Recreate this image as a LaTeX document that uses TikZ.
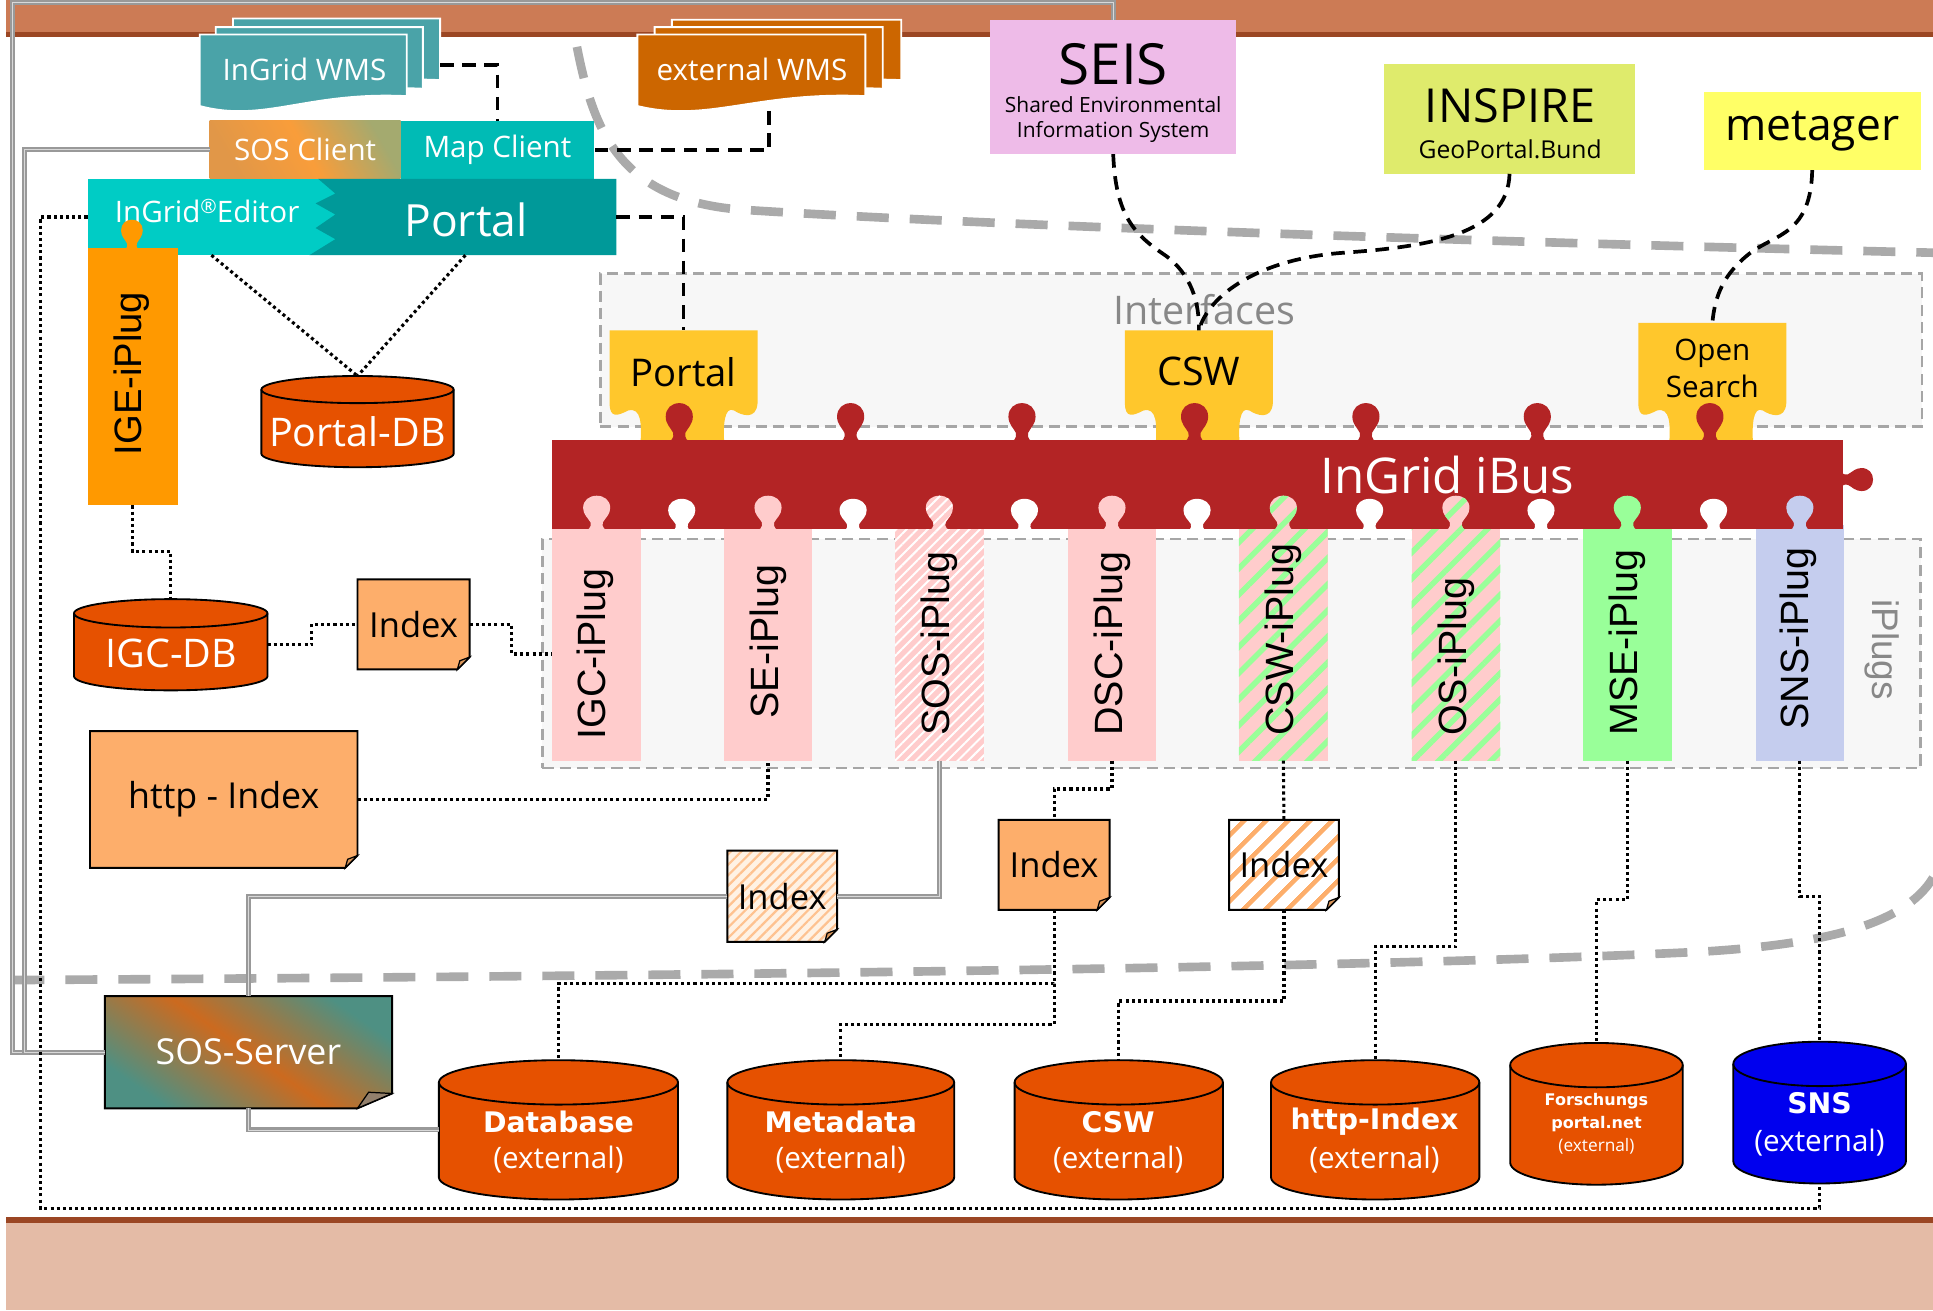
\documentclass[tikz,border=0pt]{standalone}
\usepackage{fontspec}
\setmainfont{Open Sans}
\newfontfamily\fOpen{Open Sans}
\newfontfamily\fArial{Liberation Sans}
\newfontfamily\fDeja{DejaVu Sans}
\usetikzlibrary{patterns,patterns.meta,calc}
\newcommand\fsz[2]{\fontsize{#1}{#2}\selectfont}
\definecolor{cBand}{HTML}{CC7B55}
\definecolor{cBandD}{HTML}{9B4623}
\definecolor{cBottom}{HTML}{E4BBA6}
\definecolor{cWmsI}{HTML}{4AA3A8}
\definecolor{cWmsE}{HTML}{CC6600}
\definecolor{cMap}{HTML}{00BBB5}
\definecolor{cEditor}{HTML}{00CCC5}
\definecolor{cPortal}{HTML}{009999}
\definecolor{cIge}{HTML}{FF9900}
\definecolor{cCyl}{HTML}{E65100}
\definecolor{cIdx}{HTML}{FDAE6B}
\definecolor{cIdxPale}{HTML}{FFF2E4}
\definecolor{cFold}{HTML}{D9955A}
\definecolor{cYel}{HTML}{FFC72C}
\definecolor{cBus}{HTML}{B32425}
\definecolor{cPink}{HTML}{FFCCCC}
\definecolor{cGreen}{HTML}{99FF99}
\definecolor{cBlueL}{HTML}{C5CDEE}
\definecolor{cSeis}{HTML}{EEBBE8}
\definecolor{cInsp}{HTML}{DFEB6C}
\definecolor{cMeta}{HTML}{FFFF66}
\definecolor{cGroup}{HTML}{F7F7F7}
\definecolor{cSns}{HTML}{0000EE}
\definecolor{cGrayC}{HTML}{AAAAAA}
\definecolor{cGrayT}{HTML}{888888}
\definecolor{cTealS}{HTML}{3CB9B0}
\definecolor{cOrS}{HTML}{F99D3A}
\definecolor{cSrvT}{HTML}{2E9A9C}
\definecolor{cSrvO}{HTML}{CC6A1F}
\tikzset{
 area/.style={inner sep=0pt, outer sep=0pt, anchor=north west},
 wlbl/.style={text=white, inner sep=0pt},
 blbl/.style={text=black, inner sep=0pt},
 plbl/.style={text=black, inner sep=0pt, rotate=90, anchor=west, font={\fArial\fsz{32}{36}}},
 dotc/.style={draw=black, line width=2.5pt, dash pattern=on 2.5pt off 2.5pt},
 dashc/.style={draw=black, line width=3pt, dash pattern=on 11pt off 7pt},
 grayc/.style={draw=gray!80, line width=1.8pt, double=white!70!gray, double distance=0.5pt},
 bound/.style={draw=cGrayC, line width=7pt, dash pattern=on 26pt off 17pt},
 groupbox/.style={draw=gray!70, fill=cGroup, line width=2pt, dash pattern=on 9pt off 5pt, inner sep=0pt, outer sep=0pt, anchor=north west},
 fPink/.style={fill=cPink},
 fGreen/.style={fill=cGreen},
 fBlue/.style={fill=cBlueL},
 fSos/.style={fill=cPink, postaction={pattern={Lines[angle=45,distance=6pt,line width=1.6pt]},pattern color=white}},
 fMix/.style={fill=cPink, postaction={pattern={Lines[angle=45,distance=15pt,line width=4.5pt]},pattern color=cGreen}},
 fIdx/.style={fill=cIdx},
 fIdxSos/.style={fill=cIdxPale, postaction={pattern={Lines[angle=45,distance=6pt,line width=1.8pt]},pattern color=cIdx!75}},
 fIdxCsw/.style={fill=white, postaction={pattern={Lines[angle=45,distance=13pt,line width=4pt]},pattern color=cIdx}},
 knob/.pic={\path[#1] (-13,1) .. controls (-6,1) and (-4,-3) .. (-5,-7) .. controls (-7,-11) and (-11,-14) .. (-11,-20) .. controls (-11,-27) and (-6,-31) .. (0,-31) .. controls (6,-31) and (11,-27) .. (11,-20) .. controls (11,-14) and (7,-11) .. (5,-7) .. controls (4,-3) and (6,1) .. (13,1) -- cycle;}
}
\newcommand\Sheet[6]{%
 \filldraw[fill=#6, draw=white, line width=1.5pt] (#1,#2) -- (#3,#2) -- (#3,#5) .. controls ({#3-0.48*(#3-#1)},{#5-4}) and ({#1+0.31*(#3-#1)},{#4+14}) .. (#1,#4) -- cycle;}
\newcommand\Cyl[7]{%
 \filldraw[fill=#7, draw=black, line width=1.5pt] ({#2-#5},{#3+#6}) -- ({#2-#5},{#4-#6}) arc[start angle=180, end angle=360, x radius=#5pt, y radius=#6pt] -- ({#2+#5},{#3+#6}) arc[start angle=0, end angle=180, x radius=#5pt, y radius=#6pt] -- cycle;
 \draw[line width=1.5pt] ({#2-#5},{#3+#6}) arc[start angle=180, end angle=360, x radius=#5pt, y radius=#6pt];
 \node[inner sep=0pt, outer sep=0pt, minimum width={2*#5pt}, minimum height={(#4-#3)*1pt}] (#1) at (#2,{(#3+#4)/2}) {};}
\newcommand\DocBox[8]{%
 \path[#6] (#2,#3) -- (#4,#3) -- (#4,{#5-10}) -- ({#4-10},#5) -- (#2,#5) -- cycle;
 \draw[line width=1.6pt] (#2,#3) -- (#4,#3) -- (#4,{#5-10}) -- ({#4-10},#5) -- (#2,#5) -- cycle;
 \filldraw[fill=cFold, line width=1pt] ({#4-10},#5) -- ({#4-8},{#5-7}) -- (#4,{#5-10}) -- cycle;
 \node[inner sep=0pt, outer sep=0pt, minimum width={(#4-#2)*1pt}, minimum height={(#5-#3)*1pt}, font={#7}] (#1) at ({(#2+#4)/2},{(#3+#5)/2}) {#8};}
\newcommand\IfPiece[5]{%
 \fill[cYel] ({#2-60},#3) -- ({#2+60},#3) -- ({#2+60},327) .. controls ({#2+59},341) and ({#2+47},337) .. ({#2+41},333) .. controls ({#2+33},329) and ({#2+32},345) .. ({#2+33},360) -- ({#2-35},360) .. controls ({#2-34},345) and ({#2-34},330) .. ({#2-45},333) .. controls ({#2-53},337) and ({#2-60},340) .. ({#2-60},327) -- cycle;
 \node[inner sep=0pt, outer sep=0pt, anchor=north, minimum width=120pt, minimum height={(335-#3)*1pt}, align=center, font={#4}] (#1) at (#2,#3) {#5};}
\newcommand\PlugBar[3]{%
 \path[#3] ({#2-36},426) rectangle ({#2+36},617);
 \node[inner sep=0pt, outer sep=0pt, minimum width=72pt, minimum height=191pt] (#1) at (#2,521.5) {};}
\begin{document}
\begin{tikzpicture}[x=1pt,y=-1pt]
\useasboundingbox (0,0) rectangle (1568,1063);
\fill[white] (0,0) rectangle (1568,1063);
% bands
\fill[cBand] (5,0) rectangle (1568,27);
\fill[cBandD] (5,26) rectangle (1568,30);
\fill[cBandD] (5,987) rectangle (1568,992);
\fill[cBottom] (5,992) rectangle (1568,1063);
% boundary curves
\draw[bound] (468,38) .. controls (482,110) and (505,162) .. (600,170) .. controls (800,183) and (1200,196) .. (1568,205);
\draw[bound] (10,795) .. controls (500,792) and (1100,786) .. (1380,772) .. controls (1480,766) and (1545,750) .. (1568,712);
% groups
\node[groupbox, minimum width=1072pt, minimum height=124pt] (ifgroup) at (487,222) {};
\node[inner sep=0pt, text=cGrayT, font={\fOpen\fsz{32}{36}}] (iflabel) at (977,251) {Interfaces};
\node[groupbox, minimum width=1118pt, minimum height=186pt] (plgroup) at (440,437) {};
\node[inner sep=0pt, text=cGrayT, rotate=-90, font={\fArial\fsz{30}{34}}] (pllabel) at (1527,527) {iPlugs};
% WMS stacks
\Sheet{189}{15}{357}{72}{65}{cWmsI}
\Sheet{175}{22}{343}{79}{72}{cWmsI}
\Sheet{162}{28}{330}{86}{78}{cWmsI}
\node[area, minimum width=195pt, minimum height=74pt] (wmsI) at (162,16) {};
\node[wlbl, font={\fOpen\fsz{24}{28}}] (wmsItxt) at (247,56) {InGrid WMS};
\Sheet{545}{16}{731}{72}{65}{cWmsE}
\Sheet{531}{22}{716}{79}{72}{cWmsE}
\Sheet{517}{28}{702}{86}{78}{cWmsE}
\node[area, minimum width=214pt, minimum height=74pt] (wmsE) at (517,16) {};
\node[wlbl, font={\fOpen\fsz{24}{28}}] (wmsEtxt) at (610,56) {external WMS};
% clients
\node[area, minimum width=155pt, minimum height=47pt, left color=cOrS!55!cTealS, right color=cOrS!80!gray, middle color=cOrS, shading angle=-60, text=white, font={\fOpen\fsz{24}{28}}] (sosc) at (170,98) {SOS Client};
\node[area, fill=cMap, minimum width=157pt, minimum height=47pt, text=white, font={\fOpen\fsz{24}{28}}] (mapc) at (325,98) {Map Client};
% editor and portal
\fill[cEditor] (71,145) rectangle (272,207);
\fill[cPortal] (258,145) -- (500,145) -- (500,207) -- (251,207) -- (272,194) -- (256,185) -- (272,174) -- (256,165) -- (272,157) -- cycle;
\node[area, minimum width=201pt, minimum height=62pt] (editor) at (71,145) {};
\node[area, minimum width=245pt, minimum height=62pt] (portalh) at (255,145) {};
\node[wlbl, font={\fOpen\fsz{24}{28}}] (edtxt) at (168,171) {InGrid\raisebox{7pt}{\fsz{16}{16}®}Editor};
\node[wlbl, font={\fOpen\fsz{36}{40}}] (pttxt) at (378,178) {Portal};
% IGE iPlug
\fill[cIge] (71,201) rectangle (144,410);
\pic[scale=0.8] at (107,203) {knob={fill=cIge}};
\node[area, minimum width=73pt, minimum height=209pt] (ige) at (71,201) {};
\node[blbl, rotate=90, font={\fArial\fsz{31}{35}}] (igetxt) at (107,303) {IGE-iPlug};
% databases left
\Cyl{pdb}{290}{305}{379}{78}{11}{cCyl}
\node[wlbl, font={\fOpen\fsz{32}{36}}] (pdbtxt) at (290,350) {Portal-DB};
\Cyl{igcdb}{138.5}{486}{560}{78.5}{11.5}{cCyl}
\node[wlbl, font={\fOpen\fsz{32}{36}}] (igcdbtxt) at (139,530) {IGC-DB};
% index boxes
\DocBox{idx1}{290}{470}{381}{543}{fIdx}{\fOpen\fsz{28}{32}}{Index}
\DocBox{http}{73}{593}{290}{704}{fIdx}{\fOpen\fsz{29}{34}}{http - Index}
\DocBox{idx2}{590}{690}{679}{764}{fIdxSos}{\fOpen\fsz{28}{32}}{Index}
\DocBox{idx3}{810}{665}{900}{738}{fIdx}{\fOpen\fsz{28}{32}}{Index}
\DocBox{idx4}{997}{665}{1086}{738}{fIdxCsw}{\fOpen\fsz{28}{32}}{Index}
% SOS server
\path[left color=cSrvT!80!cSrvO, right color=cSrvT!80!cSrvO, middle color=cSrvO, shading angle=-35] (85,808) -- (318,808) -- (318,887) -- (290,899) -- (85,899) -- cycle;
\draw[line width=1.6pt] (85,808) -- (318,808) -- (318,887) -- (290,899) -- (85,899) -- cycle;
\filldraw[fill=gray!70!brown, line width=1pt] (290,899) -- (299,886) -- (318,887) -- cycle;
\node[area, minimum width=233pt, minimum height=91pt, text=white, font={\fOpen\fsz{29}{34}}] (sosserver) at (85,808) {SOS-Server};
% interface pieces
\IfPiece{ifportal}{554.5}{268}{\fOpen\fsz{31}{36}}{Portal}
\IfPiece{cswif}{972.5}{268}{\fOpen\fsz{32}{36}}{CSW}
\IfPiece{osif}{1389}{262}{\fOpen\fsz{24}{30}}{Open\\Search}
% iPlug bars
\PlugBar{igc}{484}{fPink}
\PlugBar{se}{623}{fPink}
\PlugBar{sos}{762}{fSos}
\PlugBar{dsc}{902}{fPink}
\PlugBar{csw}{1041}{fMix}
\PlugBar{os}{1181}{fMix}
\PlugBar{mse}{1320}{fGreen}
\PlugBar{snsp}{1460}{fBlue}
% bus
\node[area, fill=cBus, minimum width=1047pt, minimum height=72pt] (bus) at (448,357) {};
\foreach \k in {551,690,829,969,1108,1247,1387} {\pic at (\k,358) {knob={fill=cBus}};}
\pic[rotate=-90, scale=0.85] at (1493,389) {knob={fill=cBus}};
\pic[yscale=0.9] at (484,430) {knob=fPink};
\pic[yscale=0.9] at (623,430) {knob=fPink};
\pic[yscale=0.9] at (762,430) {knob=fSos};
\pic[yscale=0.9] at (902,430) {knob=fPink};
\pic[yscale=0.9] at (1041,430) {knob=fMix};
\pic[yscale=0.9] at (1181,430) {knob=fMix};
\pic[yscale=0.9] at (1320,430) {knob=fGreen};
\pic[yscale=0.9] at (1460,430) {knob=fBlue};
\foreach \k in {553,692,831,971,1111,1250,1390} {\pic[yscale=0.85] at (\k,431) {knob={fill=white}};}
\node[wlbl, font={\fOpen\fsz{40}{44}}] (bustxt) at (1174,385) {InGrid iBus};
% bar labels
\node[plbl] (igcL) at (483,600) {IGC-iPlug};
\node[plbl] (seL) at (623,583) {SE-iPlug};
\node[plbl] (sosL) at (762,597) {SOS-iPlug};
\node[plbl] (dscL) at (902,597) {DSC-iPlug};
\node[plbl] (cswL) at (1041,597) {CSW-iPlug};
\node[plbl] (osL) at (1181,597) {OS-iPlug};
\node[plbl] (mseL) at (1320,597) {MSE-iPlug};
\node[plbl] (snsL) at (1459,592) {SNS-iPlug};
% external systems
\node[area, fill=cSeis, minimum width=200pt, minimum height=109pt] (seis) at (803,16) {};
\node[blbl, font={\fOpen\fsz{46}{50}}] (seist) at (903,52) {SEIS};
\node[blbl, align=center, font={\fOpen\fsz{17}{21}}] (seiss) at (903,97) {Shared Environmental\\Information System};
\node[area, fill=cInsp, minimum width=203pt, minimum height=89pt] (inspire) at (1123,52) {};
\node[blbl, font={\fOpen\fsz{38}{42}}] (inspt) at (1225,86) {INSPIRE};
\node[blbl, font={\fOpen\fsz{20}{24}}] (inspg) at (1225,121) {GeoPortal.Bund};
\node[area, fill=cMeta, minimum width=176pt, minimum height=63pt, text=black, font={\fOpen\fsz{36}{40}}] (metager) at (1382,75) {metager};
% bottom databases
\Cyl{dbase}{453}{860}{973}{97}{18}{cCyl}
\Cyl{meta}{682}{860}{973}{92}{18}{cCyl}
\Cyl{cswdb}{907.5}{860}{973}{84.5}{18}{cCyl}
\Cyl{httpdb}{1115.5}{860}{973}{84.5}{18}{cCyl}
\Cyl{fp}{1295}{846}{961}{70}{18}{cCyl}
\Cyl{sns}{1476}{845}{960}{70}{18}{cSns}
\node[wlbl, font={\fDeja\bfseries\fsz{23}{27}}] (dbT1) at (453,910) {Database};
\node[wlbl, font={\fOpen\fsz{24}{28}}] (dbT2) at (453,941) {(external)};
\node[wlbl, font={\fDeja\bfseries\fsz{23}{27}}] (mtT1) at (682,910) {Metadata};
\node[wlbl, font={\fOpen\fsz{24}{28}}] (mtT2) at (682,941) {(external)};
\node[wlbl, font={\fDeja\bfseries\fsz{23}{27}}] (cwT1) at (907,910) {CSW};
\node[wlbl, font={\fOpen\fsz{24}{28}}] (cwT2) at (907,941) {(external)};
\node[wlbl, font={\fDeja\bfseries\fsz{23}{27}}] (htT1) at (1115,910) {http-Index};
\node[wlbl, font={\fOpen\fsz{24}{28}}] (htT2) at (1115,941) {(external)};
\node[wlbl, font={\fDeja\bfseries\fsz{13}{16}}] (fpT1) at (1295,893) {Forschungs};
\node[wlbl, font={\fDeja\bfseries\fsz{13}{16}}] (fpT2) at (1295,912) {portal.net};
\node[wlbl, font={\fOpen\fsz{14}{17}}] (fpT3) at (1295,930) {(external)};
\node[wlbl, font={\fDeja\bfseries\fsz{23}{27}}] (snT1) at (1476,895) {SNS};
\node[wlbl, font={\fOpen\fsz{24}{28}}] (snT2) at (1476,927) {(external)};
% helper coordinates
\coordinate (oc1) at (33,980);
\coordinate (g1) at (20,500);
\coordinate (g2) at (10,2);
% gray connectors
\draw[grayc] (seis.north) |- (g2) |- (sosserver.west);
\draw[grayc] (sosc.west) -| (g1) |- (sosserver.west);
\draw[grayc] (sos.south) |- (idx2.east);
\draw[grayc] (idx2.west) -| (sosserver.north);
\draw[grayc] (sosserver.south) |- (dbase.west);
% dashed connectors
\draw[dashc] (wmsI.east) -| (mapc.north);
\draw[dashc] (wmsE.south) |- (mapc.east);
\draw[dashc] (portalh.east) -| (ifportal.north);
\draw[dashc] (seis.south) .. controls (905,175) and (920,190) .. (945,207) .. controls (966,222) and (973,245) .. (cswif.north);
\draw[dashc] (inspire.south) .. controls (1223,190) and (1160,200) .. (1090,205) .. controls (1020,210) and (980,240) .. (cswif.north);
\draw[dashc] (metager.south) .. controls (1469,190) and (1440,190) .. (1420,205) .. controls (1398,222) and (1391,240) .. (osif.north);
% dotted connectors
\draw[dotc] (editor.south) -- (pdb.north);
\draw[dotc] (portalh.south) -- (pdb.north);
\draw[dotc] (editor.west) -| (oc1) -| (sns.south);
\draw[dotc] (ige.south) |- ($(igcdb.north)+(0,-39)$) -- (igcdb.north);
\draw[dotc] (igcdb.east) -- ++(36,0) |- (idx1.west);
\draw[dotc] (idx1.east) -- ++(34,0) |- ($(igc.west)+(0,9)$);
\draw[dotc] (http.east) -| (se.south);
\draw[dotc] (dsc.south) -- ++(0,23) -| (idx3.north);
\draw[dotc] (idx3.south) -- ++(0,60) coordinate (j1) -| (dbase.north);
\draw[dotc] (j1) -- ++(0,33) -| (meta.north);
\draw[dotc] (csw.south) -- (idx4.north);
\draw[dotc] (idx4.south) -- ++(0,74) -| (cswdb.north);
\draw[dotc] (os.south) -- ++(0,151) -| (httpdb.north);
\draw[dotc] (mse.south) -- ++(0,113) -| (fp.north);
\draw[dotc] (snsp.south) -- ++(0,110) -| (sns.north);
\end{tikzpicture}
\end{document}
